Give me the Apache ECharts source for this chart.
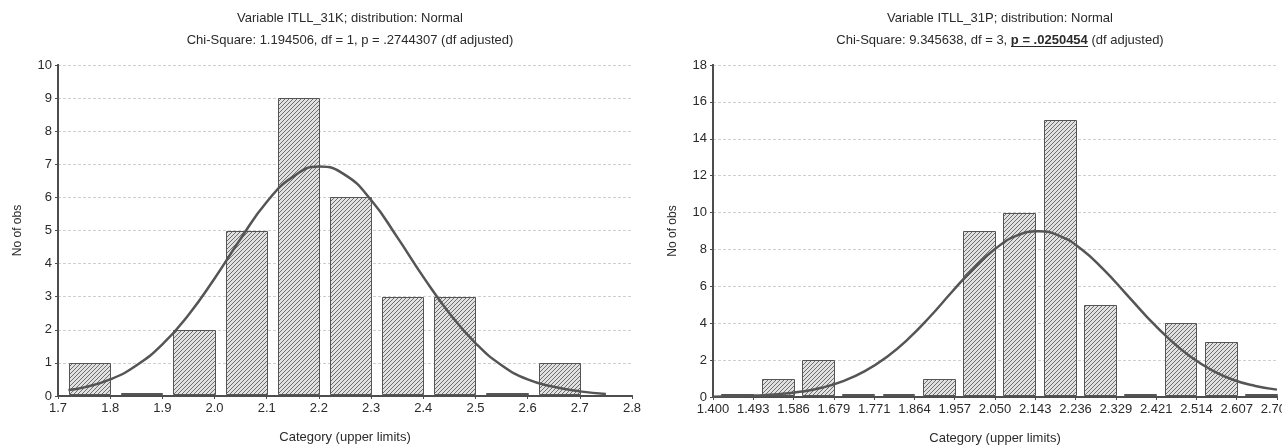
<!DOCTYPE html>
<html>
<head>
<meta charset="utf-8">
<script src="https://cdn.jsdelivr.net/npm/echarts@6/dist/echarts.min.js"></script>
<style>
  html, body { margin: 0; padding: 0; background: #fff; }
  #chart { width: 1282px; height: 445px; }
</style>
</head>
<body>
<div id="chart"></div>
<script>
// left histogram: ITLL_31K
const leftTicks = ['1.7', '1.8', '1.9', '2.0', '2.1', '2.2', '2.3', '2.4', '2.5', '2.6', '2.7', '2.8'];
const leftCounts = [1, 0, 2, 5, 9, 6, 3, 3, 0, 1];
const leftCurveX = [1.72, 1.75, 1.80, 1.85, 1.90, 1.95, 2.00, 2.05, 2.10, 2.15, 2.20, 2.25, 2.30, 2.35, 2.40, 2.45, 2.50, 2.55, 2.60, 2.65, 2.70, 2.75];
const leftCurveY = [0.18, 0.26, 0.5, 0.92, 1.56, 2.45, 3.55, 4.75, 5.86, 6.62, 6.93, 6.68, 5.92, 4.8, 3.6, 2.5, 1.6, 0.93, 0.5, 0.28, 0.14, 0.06];

// right histogram: ITLL_31P
const rightTicks = ['1.400', '1.493', '1.586', '1.679', '1.771', '1.864', '1.957', '2.050', '2.143', '2.236', '2.329', '2.421', '2.514', '2.607', '2.700'];
const rightCounts = [0, 1, 2, 0, 0, 1, 9, 10, 15, 5, 0, 4, 3, 0];
const rightCurveX = [1.40, 1.45, 1.50, 1.55, 1.60, 1.65, 1.70, 1.75, 1.80, 1.85, 1.90, 1.95, 2.00, 2.05, 2.10, 2.15, 2.20, 2.25, 2.30, 2.35, 2.40, 2.45, 2.50, 2.55, 2.60, 2.65, 2.70];
const rightCurveY = [0.02, 0.04, 0.08, 0.15, 0.28, 0.5, 0.86, 1.4, 2.16, 3.15, 4.35, 5.68, 6.95, 8.02, 8.75, 8.98, 8.72, 8.0, 6.92, 5.65, 4.35, 3.18, 2.2, 1.45, 0.92, 0.6, 0.4];

const textColor = '#2a2a2a';
const frameColor = '#4d4d4d';
const font = 'Liberation Sans';

// hatch fill for the bars
const hatch = document.createElement('canvas');
hatch.width = 4;
hatch.height = 4;
const hctx = hatch.getContext('2d');
const img = hctx.createImageData(4, 4);
for (let y = 0; y < 4; y++) {
  for (let x = 0; x < 4; x++) {
    const k = (y * 4 + x) * 4;
    const c = (x + y) % 4 === 3 ? 110 : 225;
    img.data[k] = c; img.data[k + 1] = c; img.data[k + 2] = c; img.data[k + 3] = 255;
  }
}
hctx.putImageData(img, 0, 0);

// underline for the bold p value (stretched as a text background)
const uline = document.createElement('canvas');
uline.width = 1;
uline.height = 14;
const uctx = uline.getContext('2d');
uctx.fillStyle = '#2a2a2a';
uctx.fillRect(0, 13, 1, 1);

function toBins(counts) {
  return counts.map((n, i) => [i, n]);
}
function toCurve(xs, ys, ticks) {
  const x0 = parseFloat(ticks[0]);
  const step = (parseFloat(ticks[ticks.length - 1]) - x0) / (ticks.length - 1);
  return xs.map((x, i) => [(x - x0) / step, ys[i]]);
}

function renderBar(params, api) {
  const i = api.value(0);
  const n = api.value(1);
  const p0 = api.coord([i + 0.21, n]);
  const p1 = api.coord([i + 1, 0]);
  const left = Math.round(p0[0]);
  const right = Math.round(p1[0]);
  let top = Math.round(p0[1]);
  const bottom = Math.round(p1[1]) - 2;
  if (bottom - top < 1) top = bottom - 1;
  return {
    type: 'rect',
    shape: { x: left + 0.5, y: top + 0.5, width: right - left, height: bottom - top },
    style: { fill: { image: hatch, repeat: 'repeat' }, stroke: '#555', lineWidth: 1 }
  };
}

function xAxes(ticks, gridIndex) {
  return [{
    type: 'value', gridIndex: gridIndex, min: 0, max: ticks.length - 1, interval: 1,
    name: 'Category (upper limits)', nameLocation: 'middle', nameGap: 35,
    nameTextStyle: { color: textColor, fontSize: 13, fontFamily: font },
    axisLine: { show: true, lineStyle: { color: frameColor, width: 2 } },
    axisTick: { show: false },
    axisLabel: { color: textColor, fontSize: 13, fontFamily: font, margin: 6, alignMaxLabel: 'center', formatter: v => ticks[v] },
    splitLine: { show: false }
  }, {
    type: 'value', gridIndex: gridIndex, position: 'top', min: 0, max: ticks.length - 1, interval: 1,
    axisLine: { show: true, lineStyle: { color: frameColor, width: 2 } },
    axisTick: { show: true, inside: true, length: 3, lineStyle: { color: frameColor } },
    axisLabel: { show: false },
    splitLine: { show: false }
  }];
}

function yAxes(max, step, gridIndex) {
  return [{
    type: 'value', gridIndex: gridIndex, min: 0, max: max, interval: step,
    name: 'No of obs', nameLocation: 'middle', nameGap: 34,
    nameTextStyle: { color: textColor, fontSize: 12, fontFamily: font },
    axisLine: { show: true, lineStyle: { color: frameColor, width: 2 } },
    axisTick: { show: false },
    axisLabel: { color: textColor, fontSize: 13, fontFamily: font, margin: 6 },
    splitLine: { show: true, lineStyle: { color: '#cfcfcf', type: [3, 2], width: 1 } }
  }, {
    type: 'value', gridIndex: gridIndex, position: 'right', min: 0, max: max, interval: step,
    axisLine: { show: true, lineStyle: { color: frameColor, width: 2 } },
    axisTick: { show: true, inside: true, length: 3, lineStyle: { color: frameColor } },
    axisLabel: { show: false },
    splitLine: { show: false }
  }];
}

const titleStyle = { color: textColor, fontSize: 13, fontWeight: 'normal', fontFamily: font, lineHeight: 22 };

const myChart = echarts.init(document.getElementById('chart'));
const option = {
  backgroundColor: '#fff',
  animation: false,
  title: [{
    text: 'Variable ITLL_31K; distribution: Normal\nChi-Square: 1.194506, df = 1, p = .2744307 (df adjusted)',
    left: 345, top: 2, textAlign: 'center', textStyle: titleStyle
  }, {
    text: 'Variable ITLL_31P; distribution: Normal\nChi-Square: 9.345638, df = 3, {b|p = .0250454} (df adjusted)',
    left: 995, top: 2, textAlign: 'center',
    textStyle: Object.assign({}, titleStyle, {
      rich: { b: { fontWeight: 'bold', fontSize: 13, color: textColor, fontFamily: font, lineHeight: 22, height: 14, backgroundColor: { image: uline } } }
    })
  }],
  grid: [
    { left: 58, right: 650, top: 65, bottom: 49, outerBoundsMode: 'none' },
    { left: 713, right: 5, top: 65, bottom: 48, outerBoundsMode: 'none' }
  ],
  xAxis: xAxes(leftTicks, 0).concat(xAxes(rightTicks, 1)),
  yAxis: yAxes(10, 1, 0).concat(yAxes(18, 2, 1)),
  series: [{
    type: 'custom', xAxisIndex: 0, yAxisIndex: 0,
    renderItem: renderBar, data: toBins(leftCounts), z: 2
  }, {
    type: 'line', xAxisIndex: 0, yAxisIndex: 0, smooth: true, showSymbol: false,
    lineStyle: { color: '#555', width: 2.5 }, data: toCurve(leftCurveX, leftCurveY, leftTicks), z: 3
  }, {
    type: 'custom', xAxisIndex: 2, yAxisIndex: 2,
    renderItem: renderBar, data: toBins(rightCounts), z: 2
  }, {
    type: 'line', xAxisIndex: 2, yAxisIndex: 2, smooth: true, showSymbol: false,
    lineStyle: { color: '#555', width: 2.5 }, data: toCurve(rightCurveX, rightCurveY, rightTicks), z: 3
  }]
};
myChart.setOption(option);
</script>
</body>
</html>
